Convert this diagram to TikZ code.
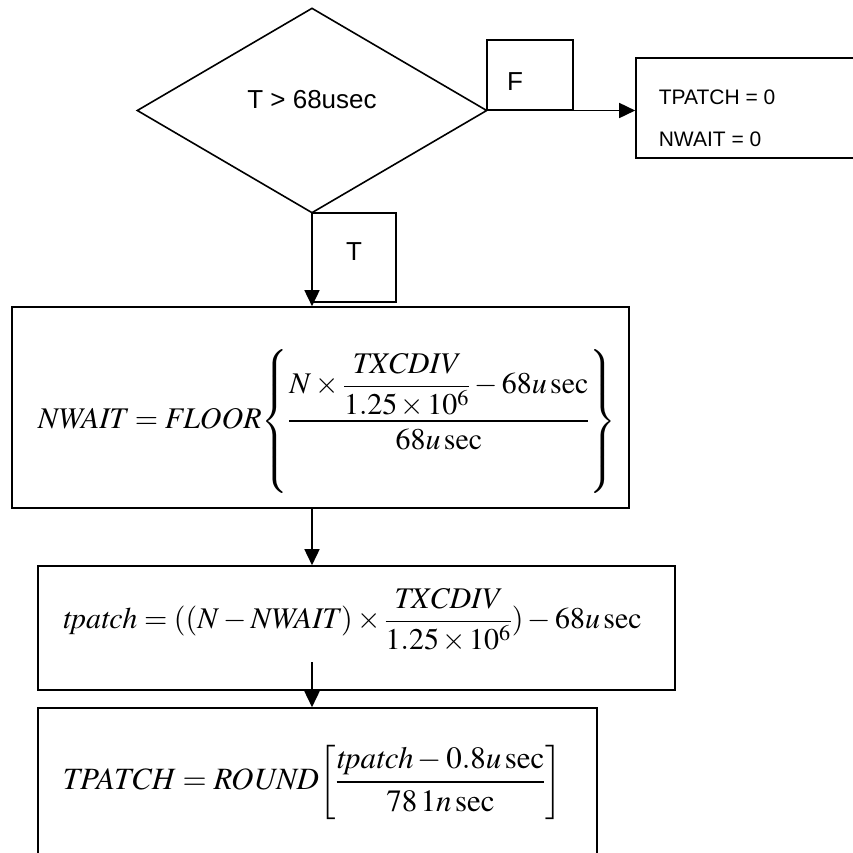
\documentclass[tikz,border=0pt]{standalone}
\usepackage{amsmath}
\usepackage{mathptmx}
\usepackage{fontspec}
\setmainfont{Liberation Serif}
\newfontfamily\arialfont{Liberation Sans}
\usetikzlibrary{arrows.meta,shapes.geometric}
\newcommand{\tx}{\mkern2mu{\times}\mkern2mu}
\tikzset{
  box/.style={draw, rectangle, inner sep=0pt},
  lbl/.style={inner sep=0pt, font=\arialfont\fontsize{26}{31}\selectfont},
  smalllbl/.style={inner sep=0pt, anchor=west, font=\arialfont\fontsize{21}{25}\selectfont},
  formula/.style={inner sep=0pt, anchor=west, font=\fontsize{30}{36}\selectfont},
  bigformula/.style={inner sep=0pt, anchor=west, font=\fontsize{31}{37}\selectfont},
  arr/.style={-{Triangle[length=16pt,width=15pt]}},
}
\begin{document}
\begin{tikzpicture}[x=1pt,y=-1pt,line width=1.6pt]
\useasboundingbox (0,0) rectangle (853,852);
\clip (0,0) rectangle (853,852);
% decision
\node[draw, diamond, minimum width=350pt, minimum height=205pt, inner sep=0pt] (dia) at (312,110.5) {};
\node[lbl] (cond) at (312,100) {T > 68usec};
% F label box
\node[box, minimum width=86pt, minimum height=70pt] (fbox) at (530,75) {};
\node[lbl] (flab) at (515,82) {F};
% T label box
\node[box, minimum width=84pt, minimum height=89pt] (tbox) at (354,257.5) {};
\node[lbl] (tlab) at (354,252) {T};
% right result box
\node[box, minimum width=244pt, minimum height=100pt] (rbox) at (758,108) {};
\node[smalllbl] (r1) at (658,97) {TPATCH = 0};
\node[smalllbl] (r2) at (658,139) {NWAIT = 0};
% NWAIT box
\node[box, minimum width=617pt, minimum height=201pt] (nwait) at (320.5,407.5) {};
\node[formula] (f1) at (37,421) {$\mathit{NWAIT} = \mathit{FLOOR}\!\left\{\dfrac{N\times\dfrac{\mathit{TXCDIV}}{1.25\tx10^{6}}-68u\,\mathrm{sec}}{68u\,\mathrm{sec}}\right\}$};
% tpatch box
\node[box, minimum width=637pt, minimum height=124pt] (tp) at (356.5,628) {};
\node[formula] (f2) at (62,620) {$\mathit{tpatch} = ((N-\mathit{NWAIT})\times\dfrac{\mathit{TXCDIV}}{1.25\tx10^{6}})-68u\,\mathrm{sec}$};
% TPATCH box
\node[box, minimum width=559pt, minimum height=192pt] (TP) at (317.5,804) {};
\node[bigformula] (f3) at (62,782) {$\mathit{TPATCH} = \mathit{ROUND}\!\left[\dfrac{\mathit{tpatch}-0.8u\,\mathrm{sec}}{78\mkern2mu 1n\,\mathrm{sec}}\right]$};
% connectors
\coordinate (c4) at (312,662);
\draw[arr] (dia.south) -- (dia.south |- nwait.north);
\draw[arr] (dia.east) -- (rbox.west |- dia.east);
\draw[arr] (dia.south |- nwait.south) -- (dia.south |- tp.north);
\draw[arr] (c4) -- (c4 |- TP.north);
\end{tikzpicture}
\end{document}
